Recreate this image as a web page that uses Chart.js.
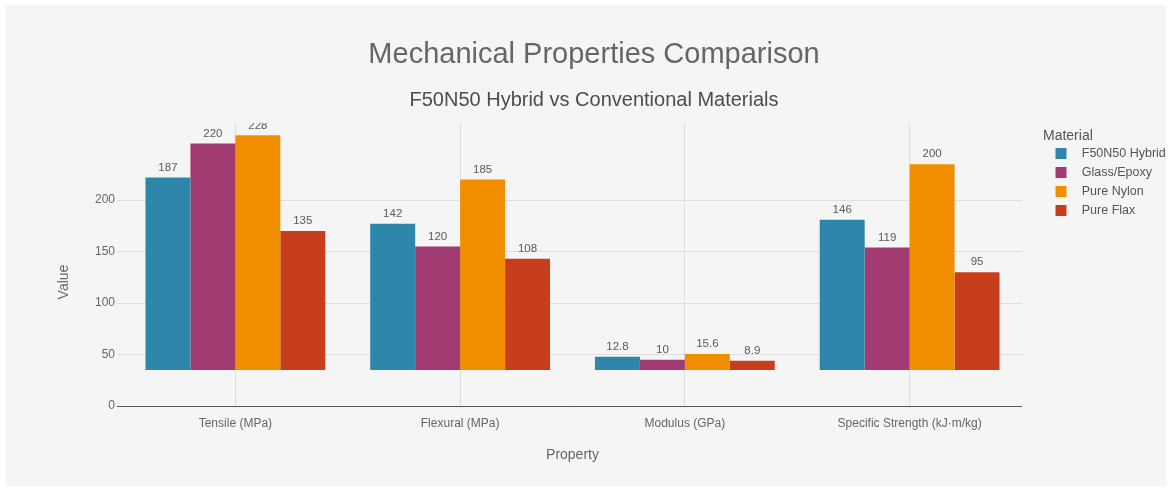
<!DOCTYPE html>
<html><head><meta charset="utf-8">
<script src="https://cdn.jsdelivr.net/npm/chart.js@4.4.1/dist/chart.umd.min.js"></script>
<style>
html,body{margin:0;padding:0;background:#ffffff;overflow:hidden;}
#panel{position:absolute;left:6px;top:5px;width:1160px;height:481px;background:#f5f5f5;}
#wrap{position:absolute;left:0;top:0;width:1172px;height:489px;}
</style></head><body>
<div id="panel"></div>
<div id="wrap"><canvas id="c" width="1172" height="489"></canvas></div>
<script>
// ---- data ----
const categories = ['Tensile (MPa)', 'Flexural (MPa)', 'Modulus (GPa)', 'Specific Strength (kJ·m/kg)'];
const seriesNames = ['F50N50 Hybrid', 'Glass/Epoxy', 'Pure Nylon', 'Pure Flax'];
const hybridValues = [187, 142, 12.8, 146];
const glassEpoxyValues = [220, 120, 10, 119];
const nylonValues = [228, 185, 15.6, 200];
const flaxValues = [135, 108, 8.9, 95];
const barBase = 35;              // bars in the reference float up from this axis value
const yTickValues = [0, 50, 100, 150, 200];
const yMax = 275;
const colors = ['#2E86AB', '#A23B72', '#F18F01', '#C73E1D'];

const FONT = '"Liberation Sans", Arial, Helvetica, sans-serif';
const allValues = [hybridValues, glassEpoxyValues, nylonValues, flaxValues];

function swatch(color) {
  const c = document.createElement('canvas');
  c.width = 26; c.height = 11;
  const g = c.getContext('2d');
  g.fillStyle = color;
  g.fillRect(6, 0, 11, 11);
  return c;
}

const datasets = allValues.map((vals, i) => ({
  label: seriesNames[i],
  data: vals.map(v => [barBase, barBase + v]),
  backgroundColor: colors[i],
  borderWidth: 0,
  barPercentage: 1.0,
  categoryPercentage: 0.8
}));

const valueLabels = {
  id: 'valueLabels',
  afterDatasetsDraw(chart) {
    const {ctx, chartArea} = chart;
    ctx.save();
    ctx.beginPath();
    ctx.rect(chartArea.left, chartArea.top, chartArea.right - chartArea.left, chartArea.bottom - chartArea.top);
    ctx.clip();
    ctx.font = '11.5px ' + FONT;
    ctx.fillStyle = '#5a5a5a';
    ctx.textAlign = 'center';
    ctx.textBaseline = 'middle';
    allValues.forEach((vals, i) => {
      chart.getDatasetMeta(i).data.forEach((bar, j) => {
        ctx.fillText(String(vals[j]), bar.x, bar.y - 10);
      });
    });
    ctx.restore();
  }
};

new Chart(document.getElementById('c'), {
  type: 'bar',
  data: { labels: categories, datasets },
  plugins: [valueLabels],
  options: {
    responsive: false,
    animation: false,
    layout: { padding: { left: 16, right: 0, top: 0, bottom: 0 } },
    plugins: {
      tooltip: { enabled: false },
      title: {
        display: true,
        text: 'Mechanical Properties Comparison',
        color: '#666666',
        font: { family: FONT, size: 29, weight: 'normal' },
        padding: { top: 37.6, bottom: 0 }
      },
      subtitle: {
        display: true,
        text: 'F50N50 Hybrid vs Conventional Materials',
        color: '#4d4d4d',
        font: { family: FONT, size: 20, weight: 'normal' },
        padding: { top: 15.6, bottom: 11 }
      },
      legend: {
        position: 'right',
        align: 'start',
        fullSize: false,
        maxWidth: 129,
        title: {
          display: true,
          text: 'Material',
          position: 'start',
          color: '#555555',
          font: { family: FONT, size: 14, lineHeight: 1 },
          padding: { top: 6, bottom: -2 }
        },
        labels: {
          color: '#555555',
          font: { family: FONT, size: 12.5 },
          padding: 6.5,
          usePointStyle: true,
          pointStyleWidth: 26,
          generateLabels(chart) {
            const items = Chart.defaults.plugins.legend.labels.generateLabels(chart);
            return items.map((it, i) => { it.pointStyle = swatch(colors[i]); return it; });
          }
        }
      }
    },
    scales: {
      x: {
        grid: { offset: false, color: '#dedede', drawTicks: false },
        border: { display: false },
        ticks: { color: '#666666', font: { family: FONT, size: 12 }, padding: 10, maxRotation: 0 },
        title: {
          display: true, text: 'Property', color: '#666666',
          font: { family: FONT, size: 14 }, padding: { top: 0, bottom: 25.6 }
        },
        afterFit(s) { s.height = 83; }
      },
      y: {
        min: 0, max: yMax,
        afterBuildTicks(s) { s.ticks = yTickValues.map(v => ({ value: v })); },
        grid: {
          color: c => (c.tick && c.tick.value === 0 ? '#555555' : '#dedede'),
          tickLength: 6, drawTicks: true
        },
        border: { display: false },
        ticks: { color: '#666666', font: { family: FONT, size: 12 }, padding: 2 },
        title: {
          display: true, text: 'Value         ', color: '#666666',
          font: { family: FONT, size: 14 }, padding: { top: 39.6, bottom: 0 }
        },
        afterFit(s) { s.width = 107; }
      },
      gap: {
        type: 'linear', position: 'right', display: true,
        grid: { display: false, drawTicks: false },
        border: { display: false },
        ticks: { display: false },
        afterFit(s) { s.width = 21; }
      }
    }
  }
});
</script>
</body></html>
